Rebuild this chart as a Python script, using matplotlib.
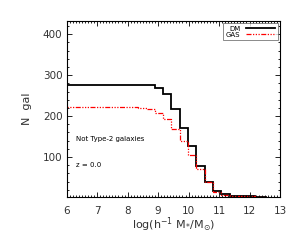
import matplotlib
matplotlib.use("Agg")
import matplotlib.pyplot as plt
from matplotlib.ticker import MultipleLocator, FixedLocator
import numpy as np

# bin left edges in log(h^-1 M*/Msun) and final right edge
bin_edges = [5.88, 6.15, 6.43, 6.70, 6.97, 7.25, 7.52, 7.79, 8.07, 8.35, 8.62, 8.90,
             9.17, 9.44, 9.72, 9.99, 10.26, 10.54, 10.81, 11.08, 11.36, 11.63, 11.90,
             12.18, 12.55]
dm_counts = [277, 277, 277, 277, 277, 277, 277, 277, 277, 275, 275, 269,
             254, 217, 172, 128, 79, 39, 17, 9, 5, 4, 3.5, 3]
gas_counts = [221, 221, 221, 221, 221, 221, 221, 221, 221, 219, 218, 208,
              192, 169, 139, 105, 70, 38, 15, 8, 5, 4, 3.5, 3]

series_labels = ["DM", "GAS"]
annot_text = "Not Type-2 galaxies"
z_text = "z = 0.0"
x_ticks = [6, 7, 8, 9, 10, 11, 12, 13]
y_ticks = [100, 200, 300, 400]

fig = plt.figure(figsize=(3.0, 2.4), dpi=100)
ax = fig.add_axes([0.2222, 0.1804, 0.7111, 0.7334])

edges = np.array(bin_edges)
ax.stairs(dm_counts, edges, color="black", lw=1.3, label=series_labels[0])
ax.stairs(gas_counts, edges, color="red", lw=0.9, label=series_labels[1],
          linestyle=(0, (4, 1.2, 1, 1.2, 1, 1.2, 1, 1.2)))

ax.set_xlim(6, 13)
ax.set_ylim(3, 433)
ax.xaxis.set_major_locator(FixedLocator(x_ticks))
ax.yaxis.set_major_locator(FixedLocator(y_ticks))
ax.xaxis.set_minor_locator(MultipleLocator(0.1))
ax.yaxis.set_minor_locator(MultipleLocator(20))

ax.tick_params(which="both", direction="in", top=True, right=True,
               labelsize=7.5, labelcolor="#333333", width=0.6)
ax.tick_params(which="major", length=3.5)
ax.tick_params(which="minor", length=1.6)
ax.tick_params(axis="x", pad=7)
ax.tick_params(axis="y", pad=3)
for s in ax.spines.values():
    s.set_linewidth(0.8)

ax.set_xlabel(r"log(h$^{-1}$ M$_{*}$/M$_{\odot}$)", fontsize=8, color="#333333", labelpad=-1)
ax.set_ylabel("N  gal", fontsize=8, color="#333333", labelpad=8)

ax.text(0.045, 0.325, annot_text, transform=ax.transAxes, fontsize=5, va="center")
ax.text(0.045, 0.18, z_text, transform=ax.transAxes, fontsize=5, va="center")

leg = ax.legend(loc="upper right", fontsize=5, markerfirst=False, frameon=True,
                fancybox=False, handlelength=4.2, handletextpad=0.8,
                borderpad=0.35, labelspacing=0.0, borderaxespad=0.35)
leg.get_frame().set_edgecolor("#555555")
leg.get_frame().set_linewidth(0.6)

fig.savefig("out.png", dpi=100)
